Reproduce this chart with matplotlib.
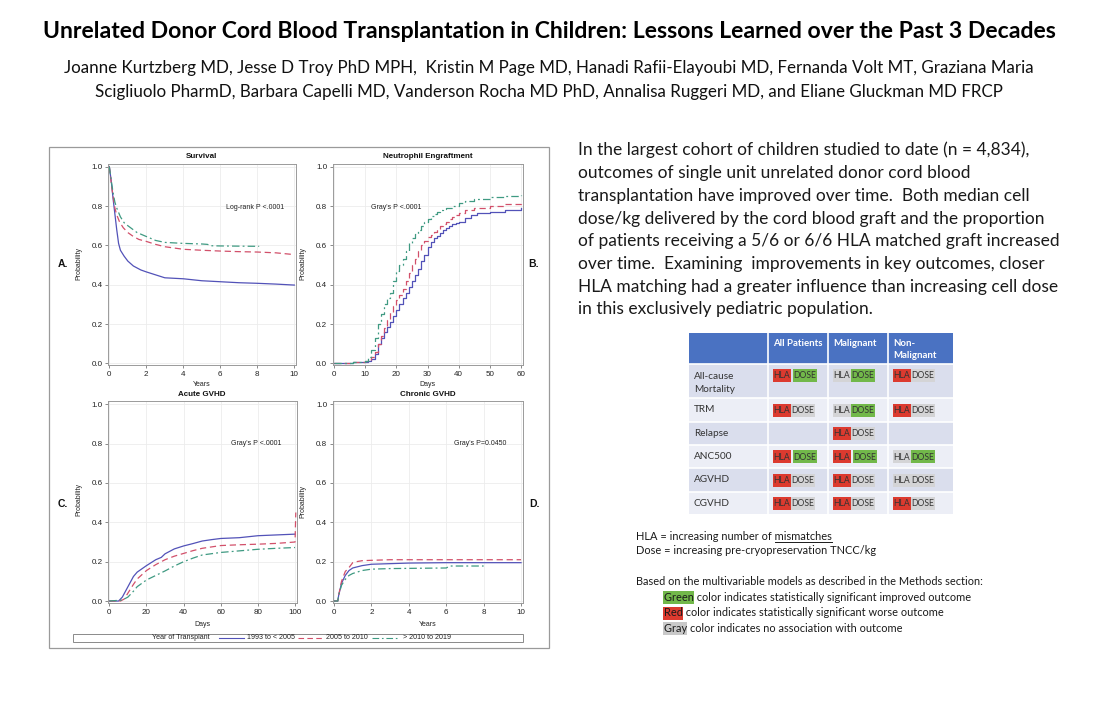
import matplotlib
matplotlib.use('Agg')
import matplotlib.pyplot as plt
from matplotlib.patches import Rectangle

# ---------------- DATA ----------------
series_names = ["1993 to < 2005", "2005 to 2010", "> 2010 to 2019"]

# A. Survival (years)
surv_t_blue = [0, 0.1, 0.2, 0.3, 0.4, 0.5, 0.6, 0.8, 1.0, 1.3, 1.7, 2, 2.5, 3, 4, 5, 6, 7, 8, 9, 10]
surv_blue = [1.0, 0.93, 0.84, 0.76, 0.68, 0.61, 0.575, 0.545, 0.52, 0.495, 0.475, 0.465, 0.45, 0.435,
             0.43, 0.42, 0.415, 0.41, 0.407, 0.403, 0.398]
surv_t_red = [0, 0.1, 0.2, 0.3, 0.4, 0.55, 0.75, 1, 1.3, 1.6, 2, 2.5, 3, 4, 5, 6, 7, 8, 9, 10]
surv_red = [1.0, 0.92, 0.85, 0.79, 0.755, 0.72, 0.69, 0.665, 0.645, 0.63, 0.62, 0.605, 0.593, 0.58,
            0.575, 0.571, 0.568, 0.566, 0.562, 0.553]
surv_t_green = [0, 0.1, 0.2, 0.3, 0.4, 0.6, 0.8, 1, 1.5, 2, 2.5, 3, 4, 5, 5.3, 5.5, 6, 7, 8.1]
surv_green = [1.0, 0.93, 0.87, 0.82, 0.79, 0.745, 0.715, 0.70, 0.665, 0.645, 0.625, 0.615, 0.61,
              0.607, 0.605, 0.598, 0.597, 0.596, 0.595]

# B. Neutrophil engraftment (days)
neut_t_blue = [0, 3, 6, 9, 10, 11, 12, 13, 14, 15, 16, 17, 18, 19, 20, 21, 22, 23, 24, 25, 26, 27, 28,
               29, 30, 31, 32, 33, 34, 35, 36, 37, 38, 39, 40, 42, 44, 46, 50, 55, 60]
neut_blue = [0, 0.003, 0.005, 0.006, 0.008, 0.012, 0.02, 0.05, 0.10, 0.13, 0.16, 0.185, 0.21, 0.24,
             0.27, 0.30, 0.33, 0.36, 0.39, 0.42, 0.45, 0.48, 0.52, 0.55, 0.59, 0.615, 0.635, 0.65,
             0.665, 0.68, 0.69, 0.70, 0.71, 0.715, 0.72, 0.74, 0.755, 0.762, 0.77, 0.78, 0.79]
neut_t_red = [0, 3, 6, 9, 10, 11, 12, 13, 14, 15, 16, 17, 18, 19, 20, 21, 22, 23, 24, 25, 26, 27, 28,
              29, 30, 31, 32, 33, 34, 35, 36, 37, 38, 39, 40, 42, 45, 50, 55, 60]
neut_red = [0, 0.004, 0.006, 0.008, 0.01, 0.015, 0.03, 0.06, 0.10, 0.14, 0.18, 0.22, 0.26, 0.29, 0.32,
            0.35, 0.38, 0.42, 0.46, 0.50, 0.53, 0.57, 0.60, 0.62, 0.64, 0.655, 0.67, 0.685, 0.70, 0.71,
            0.72, 0.735, 0.745, 0.755, 0.765, 0.78, 0.79, 0.80, 0.808, 0.815]
neut_t_green = [0, 3, 6, 9, 10, 11, 12, 13, 14, 15, 16, 17, 18, 19, 20, 21, 22, 23, 24, 25, 26, 27, 28,
                29, 30, 31, 32, 33, 34, 35, 36, 38, 40, 42, 45, 50, 55, 60]
neut_green = [0, 0.004, 0.006, 0.008, 0.01, 0.03, 0.07, 0.13, 0.20, 0.25, 0.30, 0.33, 0.36, 0.42, 0.47,
              0.50, 0.53, 0.57, 0.61, 0.635, 0.66, 0.68, 0.70, 0.72, 0.735, 0.75, 0.76, 0.77, 0.78,
              0.785, 0.79, 0.80, 0.815, 0.825, 0.835, 0.845, 0.85, 0.857]

# C. Acute GVHD (days)
agvhd_t_blue = [0, 5, 7, 9, 11, 13, 15, 20, 25, 28, 30, 35, 40, 45, 50, 55, 60, 70, 80, 90, 100]
agvhd_blue = [0, 0, 0.02, 0.055, 0.09, 0.125, 0.147, 0.18, 0.21, 0.222, 0.24, 0.265, 0.28, 0.292,
              0.305, 0.312, 0.318, 0.322, 0.332, 0.336, 0.34]
agvhd_t_red = [0, 6, 8, 10, 13, 15, 20, 25, 30, 35, 40, 45, 50, 60, 70, 80, 90, 100, 100.4]
agvhd_red = [0, 0, 0.01, 0.04, 0.085, 0.112, 0.155, 0.185, 0.21, 0.228, 0.242, 0.256, 0.268, 0.282,
             0.286, 0.289, 0.293, 0.30, 0.45]
agvhd_t_green = [0, 7, 10, 13, 15, 20, 25, 30, 35, 40, 45, 50, 60, 70, 80, 90, 100]
agvhd_green = [0, 0.005, 0.02, 0.05, 0.073, 0.107, 0.13, 0.153, 0.178, 0.20, 0.218, 0.234, 0.247,
               0.255, 0.263, 0.268, 0.272]

# D. Chronic GVHD (years)
cgvhd_t_blue = [0, 0.2, 0.25, 0.4, 0.6, 0.8, 1.0, 1.5, 2, 3, 4, 6, 8, 10]
cgvhd_blue = [0, 0, 0.03, 0.09, 0.13, 0.155, 0.168, 0.18, 0.187, 0.19, 0.193, 0.195, 0.195, 0.195]
cgvhd_t_red = [0, 0.2, 0.25, 0.4, 0.6, 0.8, 1.0, 1.2, 1.5, 2, 3, 6, 10]
cgvhd_red = [0, 0, 0.03, 0.10, 0.15, 0.17, 0.195, 0.20, 0.205, 0.207, 0.21, 0.21, 0.21]
cgvhd_t_green = [0, 0.2, 0.25, 0.4, 0.6, 0.8, 1.0, 1.5, 2, 3, 6, 6.2, 8]
cgvhd_green = [0, 0, 0.03, 0.08, 0.11, 0.13, 0.14, 0.155, 0.162, 0.165, 0.168, 0.178, 0.178]

# Table
table_cols = ["All Patients", "Malignant", "Non-\nMalignant"]
table_rows = ["All-cause\nMortality", "TRM", "Relapse", "ANC500", "AGVHD", "CGVHD"]
# (HLA colour, DOSE colour) per cell; None = empty cell ; r=red, g=green, n=gray
table_cells = [
    [("r", "g"), ("n", "g"), ("r", "n")],
    [("r", "n"), ("n", "g"), ("r", "n")],
    [None, ("r", "n"), None],
    [("r", "g"), ("r", "g"), ("n", "g")],
    [("r", "n"), ("r", "n"), ("n", "n")],
    [("r", "n"), ("r", "n"), ("r", "n")],
]

title = "Unrelated Donor Cord Blood Transplantation in Children: Lessons Learned over the Past 3 Decades"
authors = ["Joanne Kurtzberg MD, Jesse D Troy PhD MPH,  Kristin M Page MD, Hanadi Rafii-Elayoubi MD, Fernanda Volt MT, Graziana Maria",
           "Scigliuolo PharmD, Barbara Capelli MD, Vanderson Rocha MD PhD, Annalisa Ruggeri MD, and Eliane Gluckman MD FRCP"]
paragraph = ["In the largest cohort of children studied to date (n = 4,834),",
             "outcomes of single unit unrelated donor cord blood",
             "transplantation have improved over time.  Both median cell",
             "dose/kg delivered by the cord blood graft and the proportion",
             "of patients receiving a 5/6 or 6/6 HLA matched graft increased",
             "over time.  Examining  improvements in key outcomes, closer",
             "HLA matching had a greater influence than increasing cell dose",
             "in this exclusively pediatric population."]

# ---------------- STYLE ----------------
W, H = 1098, 720
BODY = ['Lato', 'DejaVu Sans']
CHART = ['Liberation Sans', 'DejaVu Sans']
C_BLUE, C_RED, C_GREEN = '#5252b8', '#d2506a', '#3f9a82'
LS = {'blue': '-', 'red': (0, (5, 3)), 'green': (0, (6, 2.5, 1.5, 2.5))}
CELL_COL = {'r': '#dc3a2f', 'g': '#72b84a', 'n': '#d4d4d6'}

fig = plt.figure(figsize=(W / 100, H / 100), dpi=100)
fig.patch.set_facecolor('white')
R = fig.canvas.get_renderer()

ov = fig.add_axes([0, 0, 1, 1])
ov.set_xlim(0, W)
ov.set_ylim(H, 0)
ov.axis('off')


def text_width(s, size, family, weight='normal'):
    t = ov.text(0, 0, s, fontsize=size, family=family, weight=weight)
    w = t.get_window_extent(R).width
    t.remove()
    return w


def fit_size(s, width, family, weight='normal'):
    return 10 * width / text_width(s, 10, family, weight)


# ---------------- HEADER ----------------
ts = fit_size(title, 1019, BODY, 'bold')
ov.text(549, 38, title, fontsize=ts, family=BODY, weight='bold', ha='center', va='baseline', color='black')
asz = (fit_size(authors[0], 968, BODY) + fit_size(authors[1], 915, BODY)) / 2
ov.text(549, 73.5, authors[0], fontsize=asz, family=BODY, ha='center', va='baseline', color='#111')
ov.text(549, 96.5, authors[1], fontsize=asz, family=BODY, ha='center', va='baseline', color='#111')

# ---------------- PARAGRAPH ----------------
psz = (fit_size(paragraph[0], 454, BODY) + fit_size(paragraph[4], 477, BODY)
       + fit_size(paragraph[6], 480, BODY) + fit_size(paragraph[3], 469, BODY)) / 4
for i, line in enumerate(paragraph):
    ov.text(578, 155.5 + 22.7 * i, line, fontsize=psz, family=BODY, ha='left', va='baseline', color='#1a1a1a')

# ---------------- TABLE ----------------
col_edges = [689, 768, 828, 888, 953]
row_edges = [333, 364, 398, 422, 445, 468, 492, 514]
band = ['#dadeed', '#eceef6']
ov.add_patch(Rectangle((col_edges[0], row_edges[0]), col_edges[-1] - col_edges[0], row_edges[1] - row_edges[0],
                       facecolor='#4a72c2', edgecolor='none'))
for i in range(len(table_rows)):
    ov.add_patch(Rectangle((col_edges[0], row_edges[i + 1]), col_edges[-1] - col_edges[0],
                           row_edges[i + 2] - row_edges[i + 1], facecolor=band[i % 2], edgecolor='none'))
for x in col_edges[1:-1]:
    ov.plot([x, x], [row_edges[0], row_edges[-1]], color='white', lw=1.2)
for y in row_edges[1:-1]:
    ov.plot([col_edges[0], col_edges[-1]], [y, y], color='white', lw=1.2)

hsz = fit_size("All Patients", 49, BODY, 'bold')
for j, c in enumerate(table_cols):
    lines = c.split('\n')
    for k, ln in enumerate(lines):
        ov.text(col_edges[j + 1] + 5, 343 + 12.5 * k, ln, fontsize=hsz, family=BODY, weight='bold',
                color='white', ha='left', va='center')

rsz = fit_size("Relapse", 34, BODY)
bsz = fit_size("DOSE", 23, BODY)
for i, rl in enumerate(table_rows):
    top, bot = row_edges[i + 1], row_edges[i + 2]
    lines = rl.split('\n')
    if len(lines) == 2:
        ys = [top + 12.5, top + 25.5]
        cy = top + 11.5
    else:
        ys = [(top + bot) / 2]
        cy = (top + bot) / 2
    for yv, ln in zip(ys, lines):
        ov.text(694, yv, ln, fontsize=rsz, family=BODY, color='#333', ha='left', va='center')
    for j, cell in enumerate(table_cells[i]):
        if cell is None:
            continue
        l = col_edges[j + 1]
        hc, dc = cell
        gap = 2.5 if (hc != 'n' and dc != 'n') else 0.5
        hx0, hw = l + 4.5, 18
        dx0, dw = hx0 + hw + gap, 24
        ov.add_patch(Rectangle((hx0, cy - 6.5), hw, 13, facecolor=CELL_COL[hc], edgecolor='none'))
        ov.add_patch(Rectangle((dx0, cy - 6.5), dw, 13, facecolor=CELL_COL[dc], edgecolor='none'))
        ov.text(hx0 + hw / 2, cy + 0.5, "HLA", fontsize=bsz, family=BODY, color='#333', ha='center', va='center')
        ov.text(dx0 + dw / 2, cy + 0.5, "DOSE", fontsize=bsz, family=BODY, color='#333', ha='center', va='center')

# ---------------- NOTES ----------------
n1 = "HLA = increasing number of mismatches"
nsz = fit_size(n1, 194, BODY)
ov.text(636, 539.5, n1, fontsize=nsz, family=BODY, ha='left', va='baseline', color='#1a1a1a')
wfull = text_width(n1, nsz, BODY)
wmis = text_width("mismatches", nsz, BODY)
ov.plot([636 + wfull - wmis, 636 + wfull], [541.5, 541.5], color='#1a1a1a', lw=0.7)
ov.text(636, 554.5, "Dose = increasing pre-cryopreservation TNCC/kg", fontsize=nsz, family=BODY,
        ha='left', va='baseline', color='#1a1a1a')
ov.text(636, 585, "Based on the multivariable models as described in the Methods section:", fontsize=nsz,
        family=BODY, ha='left', va='baseline', color='#1a1a1a')
legend_notes = [("Green", " color indicates statistically significant improved outcome", CELL_COL['g'], 601),
                ("Red", " color indicates statistically significant worse outcome", CELL_COL['r'], 616.5),
                ("Gray", " color indicates no association with outcome", '#c9c9c9', 631.5)]
for word, rest, col, yb in legend_notes:
    ww = text_width(word, nsz, BODY)
    ov.add_patch(Rectangle((663, yb - 10), ww + 1, 13, facecolor=col, edgecolor='none'))
    ov.text(663.5, yb, word + rest, fontsize=nsz, family=BODY, ha='left', va='baseline', color='#1a1a1a')

# ---------------- PANELS ----------------
ov.add_patch(Rectangle((49, 147), 500, 501, facecolor='none', edgecolor='#9a9a9a', lw=0.9))


def make_panel(l, t, r, b, xlim, xticks):
    ax = fig.add_axes([l / W, 1 - b / H, (r - l) / W, (b - t) / H])
    ax.set_xlim(*xlim)
    ax.set_ylim(-0.01, 1.015)
    ax.set_xticks(xticks)
    ax.set_yticks([0, 0.2, 0.4, 0.6, 0.8, 1.0])
    ax.set_yticklabels(["0.0", "0.2", "0.4", "0.6", "0.8", "1.0"])
    ax.grid(color='#ececec', lw=0.6)
    ax.set_axisbelow(True)
    for sp in ax.spines.values():
        sp.set_color('#9a9a9a')
        sp.set_linewidth(0.7)
    ax.tick_params(direction='out', length=2.5, width=0.6, color='#777', labelsize=5.8,
                   labelcolor='#222', pad=1.8)
    for lab in ax.get_xticklabels() + ax.get_yticklabels():
        lab.set_family(CHART)
    return ax


def curves(ax, data, step=False):
    for (tt, vv), col, key in zip(data, [C_BLUE, C_RED, C_GREEN], ['blue', 'red', 'green']):
        ax.plot(tt, vv, color=col, ls=LS[key], lw=0.9, drawstyle='steps-post' if step else 'default',
                clip_on=False)


axA = make_panel(108.4, 163.75, 296.15, 365.3, (-0.05, 10.1), [0, 2, 4, 6, 8, 10])
curves(axA, [(surv_t_blue, surv_blue), (surv_t_red, surv_red), (surv_t_green, surv_green)])
axB = make_panel(333.1, 163.75, 522.9, 365.3, (-0.3, 60.6), [0, 10, 20, 30, 40, 50, 60])
curves(axB, [(neut_t_blue, neut_blue), (neut_t_red, neut_red), (neut_t_green, neut_green)], step=True)
axC = make_panel(108.4, 401.35, 296.9, 603.0, (-0.5, 101), [0, 20, 40, 60, 80, 100])
curves(axC, [(agvhd_t_blue, agvhd_blue), (agvhd_t_red, agvhd_red), (agvhd_t_green, agvhd_green)])
axD = make_panel(333.1, 401.35, 522.9, 603.0, (-0.05, 10.1), [0, 2, 4, 6, 8, 10])
curves(axD, [(cgvhd_t_blue, cgvhd_blue), (cgvhd_t_red, cgvhd_red), (cgvhd_t_green, cgvhd_green)])

axA.text(7.9, 0.795, "Log-rank P <.0001", fontsize=5.0, family=CHART, ha='center', va='center', color='#222')
axB.text(20, 0.795, "Gray's P <.0001", fontsize=5.0, family=CHART, ha='center', va='center', color='#222')
axC.text(79, 0.80, "Gray's P <.0001", fontsize=5.0, family=CHART, ha='center', va='center', color='#222')
axD.text(7.8, 0.80, "Gray's P=0.0450", fontsize=5.0, family=CHART, ha='center', va='center', color='#222')

# panel titles / labels
for x, y, s in [(202, 157, "Survival"), (427.7, 157, "Neutrophil Engraftment"),
                (202, 394.5, "Acute GVHD"), (427.7, 394.5, "Chronic GVHD")]:
    ov.text(x, y, s, fontsize=5.8, family=CHART, weight='bold', ha='center', va='center', color='#111')
for x, y, s in [(202, 385, "Years"), (427.7, 385, "Days"), (202, 624, "Days"), (427.7, 624, "Years")]:
    ov.text(x, y, s, fontsize=5.0, family=CHART, ha='center', va='center', color='#222')
for x, y in [(79, 263), (303, 263), (79, 500), (303, 502)]:
    ov.text(x, y, "Probability", fontsize=5.0, family=CHART, rotation=90, ha='center', va='center', color='#222')
for x, y, s in [(63, 264, "A."), (534, 264, "B."), (63, 504, "C."), (534, 504, "D.")]:
    ov.text(x, y, s, fontsize=7.5, family=CHART, weight='bold', ha='center', va='center', color='#111')

# legend box
lsz = fit_size("Year of Transplant", 58, CHART)
ov.add_patch(Rectangle((72.5, 633.5), 450.5, 8.5, facecolor='white', edgecolor='#8a8a8a', lw=0.7))
ov.text(151.7, 637.8, "Year of Transplant", fontsize=lsz, family=CHART, ha='left', va='center', color='#222')
leg = [(219, 244, 247.3, C_BLUE, 'blue'), (298.3, 321.7, 326, C_RED, 'red'),
       (371.7, 398.3, 403.3, C_GREEN, 'green')]
for (x0, x1, xt, col, key), name in zip(leg, series_names):
    ov.plot([x0, x1], [637.8, 637.8], color=col, ls=LS[key], lw=0.8)
    ov.text(xt, 637.8, name, fontsize=lsz, family=CHART, ha='left', va='center', color='#222')

fig.savefig('out.png', dpi=100, facecolor='white')
